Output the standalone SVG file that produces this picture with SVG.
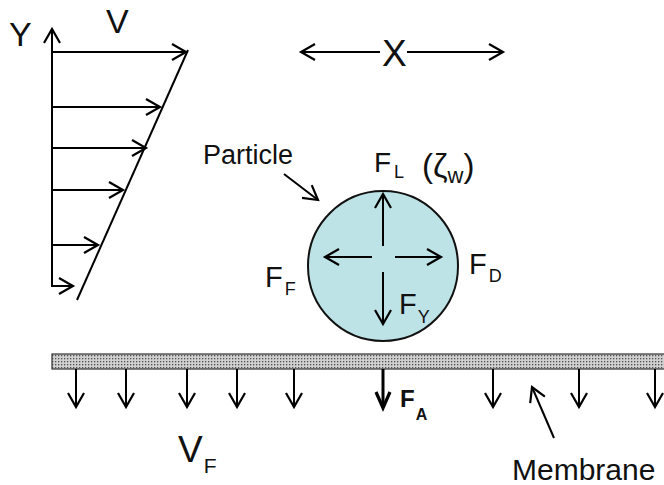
<svg xmlns="http://www.w3.org/2000/svg" width="664" height="485" viewBox="0 0 664 485">
<defs>
<marker id="ah" markerUnits="userSpaceOnUse" markerWidth="30" markerHeight="30" viewBox="-15 -15 30 30" refX="0" refY="0" orient="auto" overflow="visible">
<path d="M-14,-8 L0,0 L-14,8" fill="none" stroke="#000" stroke-width="2.2" stroke-linejoin="miter"/>
</marker>
<marker id="ahb" markerUnits="userSpaceOnUse" markerWidth="30" markerHeight="30" viewBox="-15 -15 30 30" refX="0" refY="0" orient="auto" overflow="visible">
<path d="M-16,-7 L0,0 L-16,7" fill="none" stroke="#000" stroke-width="3.2"/>
</marker>
<pattern id="dots" width="3" height="3" patternUnits="userSpaceOnUse">
<rect width="3" height="3" fill="#d0d0d0"/>
<rect x="1" y="1" width="1.3" height="1.3" fill="#505050"/>
</pattern>
</defs>
<style>
.ln{stroke:#000;stroke-width:2;fill:none}
.ar{stroke:#000;stroke-width:2;fill:none;marker-end:url(#ah)}
.t{font-family:"Liberation Sans",Arial,sans-serif;fill:#111}
</style>
<g id="connectors">
<line class="ar" x1="52" y1="287" x2="52" y2="29"/>
<line class="ar" x1="52" y1="52" x2="186" y2="52"/>
<line class="ar" x1="52" y1="107" x2="160" y2="107"/>
<line class="ar" x1="52" y1="148" x2="146" y2="148"/>
<line class="ar" x1="52" y1="190" x2="123" y2="190"/>
<line class="ar" x1="52" y1="245" x2="98" y2="245"/>
<line class="ar" x1="52" y1="286" x2="73" y2="286"/>
<line class="ln" x1="188" y1="50" x2="77" y2="300" stroke-width="1.6"/>
<line class="ar" x1="380" y1="52" x2="301" y2="52"/>
<line class="ar" x1="407" y1="52" x2="503" y2="52"/>
<line class="ar" x1="284" y1="174" x2="318" y2="200"/>
<line class="ar" x1="554" y1="438" x2="532" y2="387"/>
</g>
<g id="profile-labels">
<text class="t" x="9" y="46" font-size="34">Y</text>
<text class="t" x="106" y="33" font-size="34">V</text>
<text class="t" x="382" y="66" font-size="37">X</text>
</g>
<g id="particle">
<circle cx="383" cy="266" r="75" fill="#bde3e6" stroke="#111" stroke-width="2"/>
<line class="ar" x1="383" y1="246" x2="383" y2="194"/>
<line class="ar" x1="383" y1="272" x2="383" y2="324"/>
<line class="ar" x1="372" y1="257" x2="325" y2="257"/>
<line class="ar" x1="395" y1="257" x2="441" y2="257"/>
<text class="t" x="203" y="164" font-size="27">Particle</text>
<text class="t" x="374" y="172" font-size="28">F<tspan font-size="18" dy="6" dx="3">L</tspan></text>
<text class="t" x="422" y="177" font-size="33">(ζ<tspan font-size="22" dy="6">w</tspan><tspan dy="-6">)</tspan></text>
<text class="t" x="265" y="287" font-size="29">F<tspan font-size="18" dy="8" dx="2">F</tspan></text>
<text class="t" x="469" y="274" font-size="29">F<tspan font-size="18" dy="8" dx="2">D</tspan></text>
<text class="t" x="399" y="314" font-size="29">F<tspan font-size="18" dy="9" dx="1">Y</tspan></text>
</g>
<g id="membrane">
<rect x="52" y="354" width="614" height="15" fill="url(#dots)" stroke="#333" stroke-width="1.2"/>
<line class="ar" x1="76" y1="369" x2="76" y2="407"/>
<line class="ar" x1="126" y1="369" x2="126" y2="407"/>
<line class="ar" x1="187" y1="369" x2="187" y2="407"/>
<line class="ar" x1="237" y1="369" x2="237" y2="407"/>
<line class="ar" x1="294" y1="369" x2="294" y2="407"/>
<line x1="383" y1="369" x2="383" y2="408" stroke="#000" stroke-width="3" marker-end="url(#ahb)"/>
<line class="ar" x1="493" y1="369" x2="493" y2="407"/>
<line class="ar" x1="579" y1="369" x2="579" y2="407"/>
<line class="ar" x1="655" y1="369" x2="655" y2="407"/>
<text class="t" x="400" y="407" font-size="24" font-weight="bold">F<tspan font-size="16" dy="13" dx="1">A</tspan></text>
<text class="t" x="178" y="462" font-size="37">V<tspan font-size="21" dy="11" dx="1">F</tspan></text>
<text class="t" x="512" y="480" font-size="30">Membrane</text>
</g>
</svg>
